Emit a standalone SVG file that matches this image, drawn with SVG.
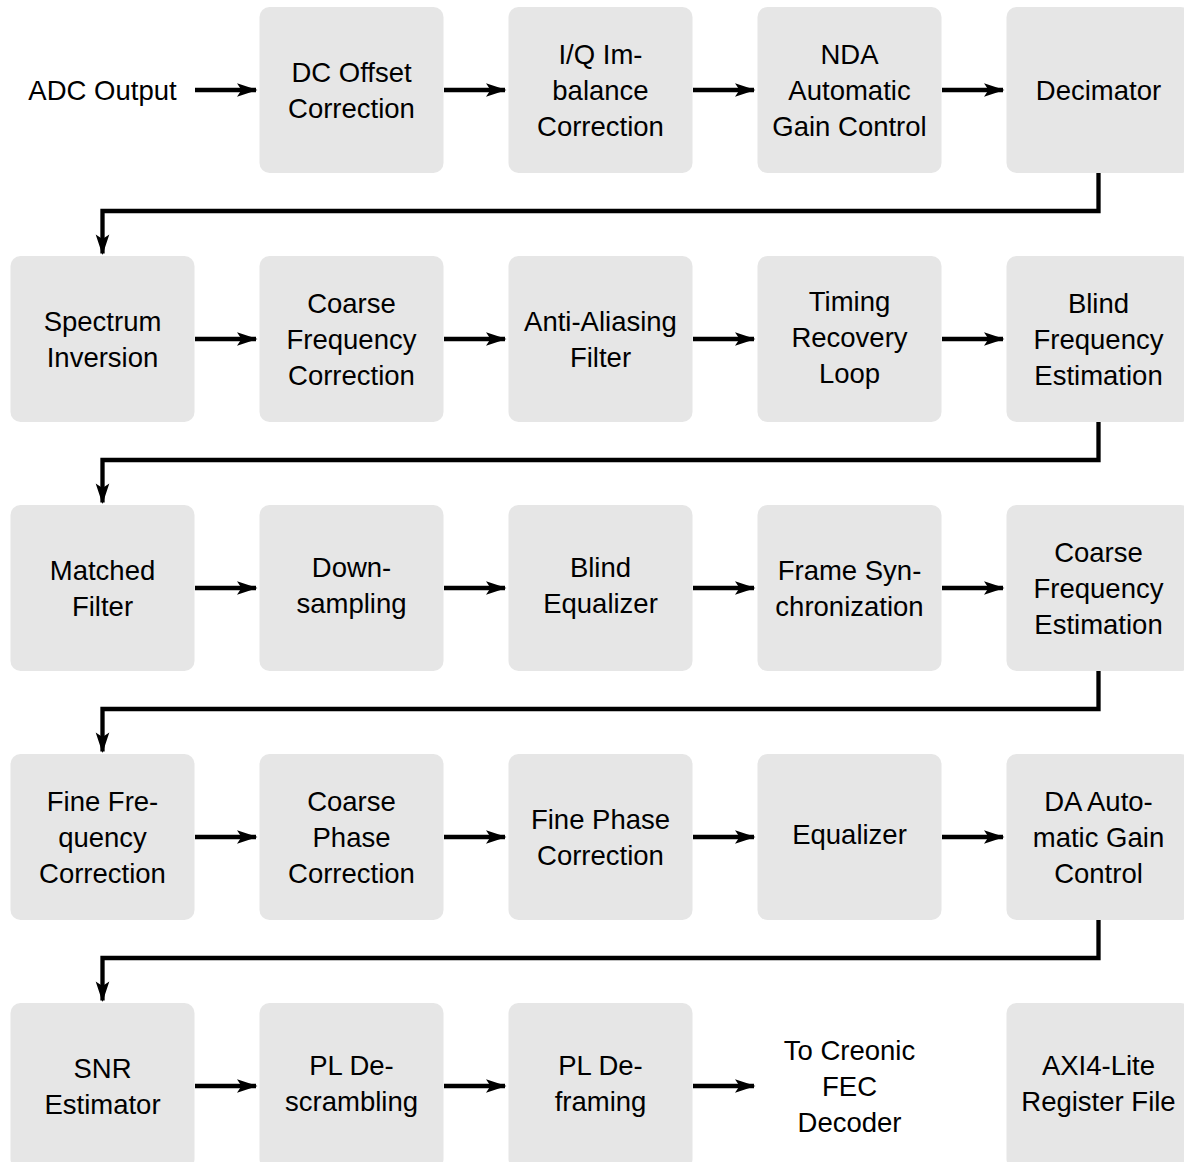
<svg xmlns="http://www.w3.org/2000/svg" width="1184" height="1162" viewBox="0 0 1184 1162">
<style>
.box{fill:#e6e6e6;}
.t{font-family:"Liberation Sans",Arial,Helvetica,sans-serif;font-size:27.5px;fill:#000;text-anchor:middle;}
.c{fill:none;stroke:#000;stroke-width:4.3;stroke-linejoin:miter;}
</style>
<defs>
<marker id="ah" markerUnits="userSpaceOnUse" markerWidth="24" markerHeight="16" viewBox="-21 -8 24 16" refX="0" refY="0" orient="auto" overflow="visible">
<path d="M1.5,0 L-19,-6.8 L-14.5,0 L-19,6.8 Z" fill="#000"/>
</marker>
</defs>
<rect width="1184" height="1162" fill="#fff"/>
<g id="connectors">
<path class="c" marker-end="url(#ah)" d="M195,90 H256"/>
<path class="c" marker-end="url(#ah)" d="M444,90 H505"/>
<path class="c" marker-end="url(#ah)" d="M693,90 H754"/>
<path class="c" marker-end="url(#ah)" d="M942,90 H1003"/>
<path class="c" marker-end="url(#ah)" d="M1098.5,173 V211 H102.5 V253.5"/>
<path class="c" marker-end="url(#ah)" d="M195,339 H256"/>
<path class="c" marker-end="url(#ah)" d="M444,339 H505"/>
<path class="c" marker-end="url(#ah)" d="M693,339 H754"/>
<path class="c" marker-end="url(#ah)" d="M942,339 H1003"/>
<path class="c" marker-end="url(#ah)" d="M1098.5,422 V460 H102.5 V502.5"/>
<path class="c" marker-end="url(#ah)" d="M195,588 H256"/>
<path class="c" marker-end="url(#ah)" d="M444,588 H505"/>
<path class="c" marker-end="url(#ah)" d="M693,588 H754"/>
<path class="c" marker-end="url(#ah)" d="M942,588 H1003"/>
<path class="c" marker-end="url(#ah)" d="M1098.5,671 V709 H102.5 V751.5"/>
<path class="c" marker-end="url(#ah)" d="M195,837 H256"/>
<path class="c" marker-end="url(#ah)" d="M444,837 H505"/>
<path class="c" marker-end="url(#ah)" d="M693,837 H754"/>
<path class="c" marker-end="url(#ah)" d="M942,837 H1003"/>
<path class="c" marker-end="url(#ah)" d="M1098.5,920 V958 H102.5 V1000.5"/>
<path class="c" marker-end="url(#ah)" d="M195,1086 H256"/>
<path class="c" marker-end="url(#ah)" d="M444,1086 H505"/>
<path class="c" marker-end="url(#ah)" d="M693,1086 H754"/>
</g>
<g id="adc-output"><text class="t" x="102.5" y="100">ADC Output</text></g>
<g id="dc-offset"><rect class="box" x="259.5" y="7" width="184" height="166" rx="10"/><text class="t" x="351.5" y="82">DC Offset</text><text class="t" x="351.5" y="118">Correction</text></g>
<g id="iq-imbalance"><rect class="box" x="508.5" y="7" width="184" height="166" rx="10"/><text class="t" x="600.5" y="64">I/Q Im-</text><text class="t" x="600.5" y="100">balance</text><text class="t" x="600.5" y="136">Correction</text></g>
<g id="nda-agc"><rect class="box" x="757.5" y="7" width="184" height="166" rx="10"/><text class="t" x="849.5" y="64">NDA</text><text class="t" x="849.5" y="100">Automatic</text><text class="t" x="849.5" y="136">Gain Control</text></g>
<g id="decimator"><rect class="box" x="1006.5" y="7" width="184" height="166" rx="10"/><text class="t" x="1098.5" y="100">Decimator</text></g>

<g id="spectrum-inversion"><rect class="box" x="10.5" y="256" width="184" height="166" rx="10"/><text class="t" x="102.5" y="331">Spectrum</text><text class="t" x="102.5" y="367">Inversion</text></g>
<g id="coarse-freq-corr"><rect class="box" x="259.5" y="256" width="184" height="166" rx="10"/><text class="t" x="351.5" y="313">Coarse</text><text class="t" x="351.5" y="349">Frequency</text><text class="t" x="351.5" y="385">Correction</text></g>
<g id="anti-aliasing"><rect class="box" x="508.5" y="256" width="184" height="166" rx="10"/><text class="t" x="600.5" y="331">Anti-Aliasing</text><text class="t" x="600.5" y="367">Filter</text></g>
<g id="timing-recovery"><rect class="box" x="757.5" y="256" width="184" height="166" rx="10"/><text class="t" x="849.5" y="311">Timing</text><text class="t" x="849.5" y="347">Recovery</text><text class="t" x="849.5" y="383">Loop</text></g>
<g id="blind-freq-est"><rect class="box" x="1006.5" y="256" width="184" height="166" rx="10"/><text class="t" x="1098.5" y="313">Blind</text><text class="t" x="1098.5" y="349">Frequency</text><text class="t" x="1098.5" y="385">Estimation</text></g>

<g id="matched-filter"><rect class="box" x="10.5" y="505" width="184" height="166" rx="10"/><text class="t" x="102.5" y="580">Matched</text><text class="t" x="102.5" y="616">Filter</text></g>
<g id="downsampling"><rect class="box" x="259.5" y="505" width="184" height="166" rx="10"/><text class="t" x="351.5" y="577">Down-</text><text class="t" x="351.5" y="613">sampling</text></g>
<g id="blind-equalizer"><rect class="box" x="508.5" y="505" width="184" height="166" rx="10"/><text class="t" x="600.5" y="577">Blind</text><text class="t" x="600.5" y="613">Equalizer</text></g>
<g id="frame-sync"><rect class="box" x="757.5" y="505" width="184" height="166" rx="10"/><text class="t" x="849.5" y="580">Frame Syn-</text><text class="t" x="849.5" y="616">chronization</text></g>
<g id="coarse-freq-est"><rect class="box" x="1006.5" y="505" width="184" height="166" rx="10"/><text class="t" x="1098.5" y="562">Coarse</text><text class="t" x="1098.5" y="598">Frequency</text><text class="t" x="1098.5" y="634">Estimation</text></g>

<g id="fine-freq-corr"><rect class="box" x="10.5" y="754" width="184" height="166" rx="10"/><text class="t" x="102.5" y="811">Fine Fre-</text><text class="t" x="102.5" y="847">quency</text><text class="t" x="102.5" y="883">Correction</text></g>
<g id="coarse-phase-corr"><rect class="box" x="259.5" y="754" width="184" height="166" rx="10"/><text class="t" x="351.5" y="811">Coarse</text><text class="t" x="351.5" y="847">Phase</text><text class="t" x="351.5" y="883">Correction</text></g>
<g id="fine-phase-corr"><rect class="box" x="508.5" y="754" width="184" height="166" rx="10"/><text class="t" x="600.5" y="829">Fine Phase</text><text class="t" x="600.5" y="865">Correction</text></g>
<g id="equalizer"><rect class="box" x="757.5" y="754" width="184" height="166" rx="10"/><text class="t" x="849.5" y="844">Equalizer</text></g>
<g id="da-agc"><rect class="box" x="1006.5" y="754" width="184" height="166" rx="10"/><text class="t" x="1098.5" y="811">DA Auto-</text><text class="t" x="1098.5" y="847">matic Gain</text><text class="t" x="1098.5" y="883">Control</text></g>

<g id="snr-estimator"><rect class="box" x="10.5" y="1003" width="184" height="166" rx="10"/><text class="t" x="102.5" y="1078">SNR</text><text class="t" x="102.5" y="1114">Estimator</text></g>
<g id="pl-descrambling"><rect class="box" x="259.5" y="1003" width="184" height="166" rx="10"/><text class="t" x="351.5" y="1075">PL De-</text><text class="t" x="351.5" y="1111">scrambling</text></g>
<g id="pl-deframing"><rect class="box" x="508.5" y="1003" width="184" height="166" rx="10"/><text class="t" x="600.5" y="1075">PL De-</text><text class="t" x="600.5" y="1111">framing</text></g>
<g id="to-fec"><text class="t" x="849.5" y="1060">To Creonic</text><text class="t" x="849.5" y="1096">FEC</text><text class="t" x="849.5" y="1132">Decoder</text></g>
<g id="axi4-lite"><rect class="box" x="1006.5" y="1003" width="184" height="166" rx="10"/><text class="t" x="1098.5" y="1075">AXI4-Lite</text><text class="t" x="1098.5" y="1111">Register File</text></g>
</svg>
